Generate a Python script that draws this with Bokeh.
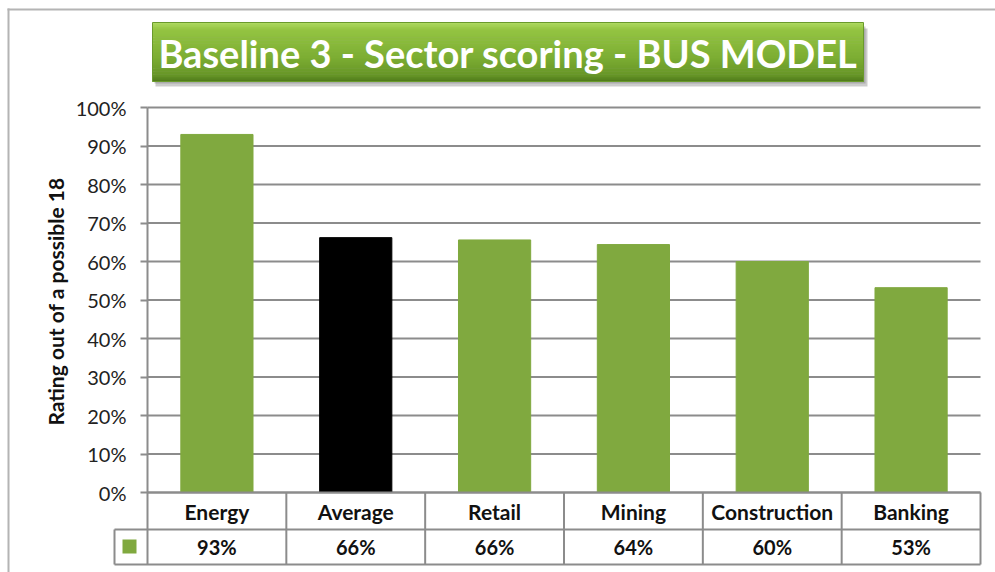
import math
from bokeh.plotting import figure
from bokeh.models import Range1d, FixedTicker, NumeralTickFormatter, ColumnDataSource
from bokeh.core.properties import value
from bokeh.embed import file_html
from bokeh.resources import INLINE

# ---- data ----
categories = ["Energy", "Average", "Retail", "Mining", "Construction", "Banking"]
values = [0.93, 0.662, 0.656, 0.644, 0.60, 0.532]
bar_colors = ["#80A93F", "#000000", "#80A93F", "#80A93F", "#80A93F", "#80A93F"]
y_ticks = [0.0, 0.1, 0.2, 0.3, 0.4, 0.5, 0.6, 0.7, 0.8, 0.9, 1.0]
title_text = "Baseline 3 - Sector scoring - BUS MODEL"
y_label = "Rating out of a possible 18"
value_labels = ["%d%%" % round(v * 100) for v in values]

FONT = "Lato"
W, H = 995, 572
FL, FR = 147, 980          # plot-area left/right (px)
Y0, Y1 = 492, 107          # 0% and 100% (px)
nc = len(categories)
PX_X = (FR - FL) / float(nc)
PX_Y = float(Y0 - Y1)

def wx(px):   # canvas px -> x data (category i spans i..i+1)
    return (px - FL) / PX_X

def wy(py):   # canvas px -> y data (fraction)
    return (Y0 - py) / PX_Y

xc = [i + 0.5 for i in range(nc)]   # category centres

p = figure(width=W, height=H, title=None,
           x_range=Range1d(wx(0), wx(W)), y_range=Range1d(wy(H), wy(0)),
           output_backend="svg", toolbar_location=None,
           min_border_left=0, min_border_right=0, min_border_top=0, min_border_bottom=0)
p.outline_line_color = None
p.background_fill_color = "white"
p.border_fill_color = "white"
p.xaxis.visible = False
p.xgrid.visible = False
p.ygrid.visible = False

GRID = "#8c8c8c"
r0, r1, r2 = 492, 529, 564

# y axis drawn at the left edge of the plot area
yax = p.yaxis[0]
yax.fixed_location = 0
yax.bounds = (wy(r2), 1)
yax.ticker = FixedTicker(ticks=y_ticks)
yax.formatter = NumeralTickFormatter(format="0%")
yax.axis_line_color = GRID
yax.axis_line_width = 2
yax.major_tick_line_color = GRID
yax.major_tick_line_width = 2
yax.major_tick_out = 7
yax.major_tick_in = 0
yax.minor_tick_line_color = None
yax.major_label_text_font = FONT
yax.major_label_text_font_size = "20px"
yax.major_label_text_color = "#222222"
yax.major_label_standoff = 14

# gridlines
p.segment(x0=[0] * len(y_ticks), x1=[nc] * len(y_ticks), y0=y_ticks, y1=y_ticks,
          line_color=GRID, line_width=2)

# bars
src = ColumnDataSource(dict(x=xc, val=values, color=bar_colors))
p.vbar(x="x", top="val", width=0.52, color="color", source=src)

# y-axis title
p.text(x=[wx(55)], y=[wy(301)], text=[y_label], angle=math.pi / 2,
       text_align="center", text_baseline="middle", text_font=value(FONT),
       text_font_size="21px", text_font_style="bold", text_color="#111111")

# outer chart border (top, left)
BORDER = "#b4b4b4"
p.quad(left=[wx(7), wx(7)], right=[wx(W), wx(9)], top=[wy(8), wy(8)], bottom=[wy(10), wy(H)],
       fill_color=BORDER, line_color=None)

# title box: shadow + vertical gradient
tl, tr, tt, tb = 152, 863, 22, 81
p.quad(left=[wx(tl + 3)], right=[wx(tr + 4)], top=[wy(tt + 6)], bottom=[wy(tb + 5)],
       fill_color="#6e6e6e", fill_alpha=0.35, line_color=None)
p.quad(left=[wx(tl + 2)], right=[wx(tr + 2)], top=[wy(tt + 4)], bottom=[wy(tb + 2)],
       fill_color="#6e6e6e", fill_alpha=0.35, line_color=None)
stops = [(0.0, (0xB0, 0xDA, 0x62)), (0.12, (0x94, 0xC4, 0x42)), (0.6, (0x7C, 0xAD, 0x33)),
         (0.9, (0x66, 0x95, 0x26)), (1.0, (0x4E, 0x78, 0x1A))]
n = 40
g_top, g_bot, g_col = [], [], []
for i in range(n):
    t = (i + 0.5) / n
    for k in range(len(stops) - 1):
        if stops[k][0] <= t <= stops[k + 1][0]:
            f = (t - stops[k][0]) / (stops[k + 1][0] - stops[k][0])
            c = tuple(int(round(a + (b - a) * f)) for a, b in zip(stops[k][1], stops[k + 1][1]))
            break
    g_top.append(wy(tt + (tb - tt) * i / n))
    g_bot.append(wy(tt + (tb - tt) * (i + 1) / n + 0.6))
    g_col.append("#%02x%02x%02x" % c)
p.quad(left=[wx(tl)] * n, right=[wx(tr)] * n, top=g_top, bottom=g_bot,
       fill_color=g_col, line_color=None)
p.quad(left=[wx(tl)], right=[wx(tr)], top=[wy(tt)], bottom=[wy(tb)],
       fill_color=None, line_color="#6a9a2c", line_width=1)
p.text(x=[wx((tl + tr) / 2)], y=[wy((tt + tb) / 2 + 1)], text=[title_text],
       text_align="center", text_baseline="middle", text_font=value(FONT),
       text_font_size="38px", text_font_style="bold", text_color="white")

# data table
p.segment(x0=[0, wx(114), wx(114)], x1=[nc, nc, nc], y0=[wy(r0), wy(r1), wy(r2)],
          y1=[wy(r0), wy(r1), wy(r2)], line_color=GRID, line_width=2)
p.segment(x0=list(range(1, nc + 1)) + [wx(114)], x1=list(range(1, nc + 1)) + [wx(114)],
          y0=[wy(r0)] * nc + [wy(r1)], y1=[wy(r2)] * (nc + 1), line_color=GRID, line_width=2)
# legend key
p.quad(left=[wx(122)], right=[wx(136)], top=[wy(539)], bottom=[wy(553)],
       fill_color="#80A93F", line_color=None)

p.text(x=xc, y=[wy((r0 + r1) / 2)] * nc, text=categories,
       text_align="center", text_baseline="middle",
       text_font=value(FONT), text_font_size="21px", text_font_style="bold", text_color="#111111")
p.text(x=xc, y=[wy((r1 + r2) / 2)] * nc, text=value_labels,
       text_align="center", text_baseline="middle",
       text_font=value(FONT), text_font_size="20px", text_font_style="bold", text_color="#111111")

open("out.html", "w").write(file_html(p, INLINE))
